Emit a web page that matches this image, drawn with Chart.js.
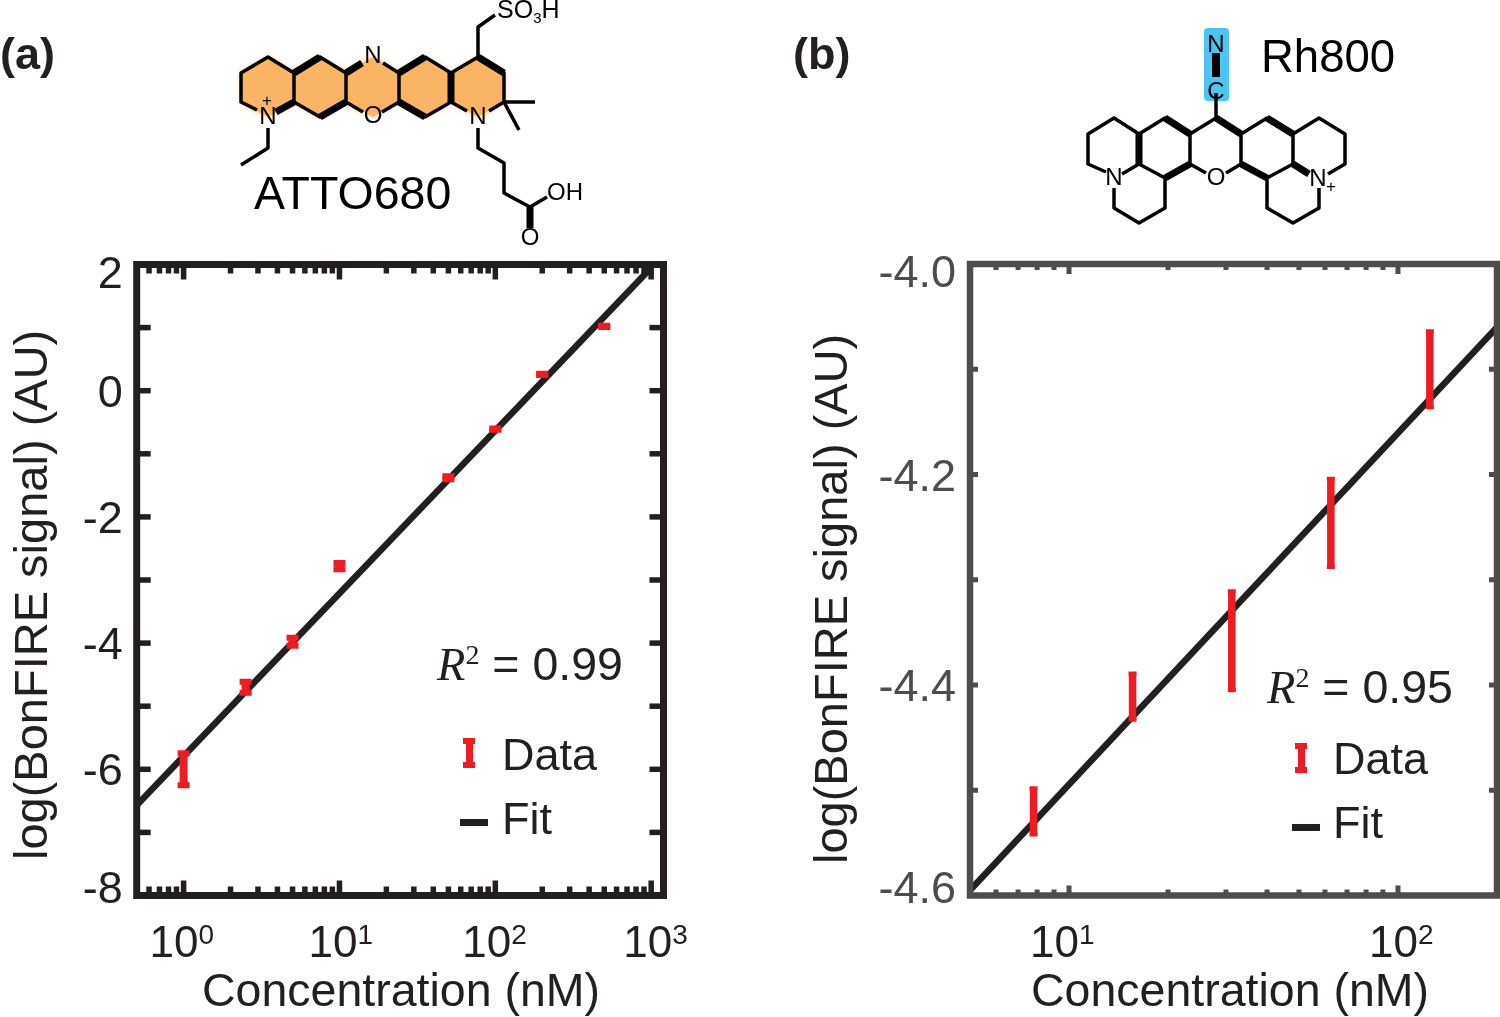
<!DOCTYPE html>
<html><head><meta charset="utf-8">
<script src="https://cdn.jsdelivr.net/npm/chart.js@4"></script>
<style>
html,body{margin:0;padding:0;background:#fff;overflow:hidden}
#page{position:relative;width:1500px;height:1017px;font-family:"Liberation Sans",Arial,sans-serif;color:#231f20}
canvas{position:absolute;top:0}
#mol{position:absolute;left:0;top:0}
.t{position:absolute;white-space:nowrap;line-height:1;font-size:45px}
.pl{font-weight:bold;font-size:45px}
.r2{font-size:46.5px}
.r2 i{font-family:"Liberation Serif",serif}
.r2 sup{font-size:28px;line-height:0;vertical-align:16px;font-family:"Liberation Serif",serif}
.e{position:absolute;background:#ed1c24}
.f{position:absolute;background:#231f20}
</style></head><body>
<div id="page">
<canvas id="ca" width="750" height="1017" style="left:0;width:750px;height:1017px"></canvas>
<canvas id="cb" width="750" height="1017" style="left:750px;width:750px;height:1017px"></canvas>
<svg id="mol" width="1500" height="262" viewBox="0 0 1500 262" font-family="Liberation Sans" fill="#000">
<defs><filter id="gl" x="-10%" y="-20%" width="120%" height="140%"><feGaussianBlur stdDeviation="3"/></filter></defs>
<polygon points="268,57 294,73 320,57 346,73 373,57 399,73 425,57 451,73 478,57 504,73 504,102 478,117 451,102 425,117 399,102 373,117 346,102 320,117 294,102 268,117 241,102 241,73" fill="#f7a540" opacity=".7" filter="url(#gl)"/>
<polygon points="268,57 294,73 320,57 346,73 373,57 399,73 425,57 451,73 478,57 504,73 504,102 478,117 451,102 425,117 399,102 373,117 346,102 320,117 294,102 268,117 241,102 241,73" fill="#f9b564"/>
<g fill="none" stroke="#000" stroke-width="3.5" stroke-linejoin="round">
<path d="M257,110 241,102 241,73 268,57 294,73 294,102 M294,73 320,57 346,73 346,102 320,117 294,102 M346,73 362,63 M383,63 399,73 399,102 M346,102 363,112 M382,112 399,102 425,117 451,102 451,73 425,57 399,73 M451,73 478,57 504,73 504,102 489,111 M451,102 467,111 M478,57 478,27 495,15 M504,102 535,102 M504,102 519,130 M268,128 268,148 241,165 M478,128 478,148 504,163 504,193 530,207 547,197"/>
<g stroke-width="7"><path d="M294,73 320,57 M346,73 362,63 M399,73 425,57 M451,73 451,102 M294,102 276,112 M320,117 346,102 M399,102 425,117 M478,57 504,73 M530,207 530,228"/></g>
</g>
<g font-size="24" text-anchor="middle">
<text x="373" y="63">N</text><text x="373" y="123">O</text><text x="268" y="124">N</text><text x="267" y="106" font-size="17">+</text><text x="478" y="124">N</text><text x="530" y="245">O</text>
<text x="497" y="18" font-size="25" text-anchor="start">SO<tspan font-size="15" dy="5">3</tspan><tspan dy="-5">H</tspan></text>
<text x="547" y="200" text-anchor="start">OH</text></g>
<text x="254" y="209" font-size="46.5">ATTO680</text>
<rect x="1204" y="28" width="25" height="73" rx="4" fill="#4cc5f2"/>
<g fill="none" stroke="#000" stroke-width="3.5" stroke-linejoin="round">
<path d="M1216,93 1216,118 M1106,172 1088,164 1088,134 1114,118 1139,134 1139,164 1122,174 M1139,134 1165,118 1190,134 1190,164 1165,178 1139,164 M1190,134 1216,118 1241,134 1241,164 1226,173 M1190,164 1206,173 M1241,134 1267,118 1293,134 1293,164 1267,178 1241,164 M1293,134 1319,118 1345,134 1345,164 1328,174 M1114,188 1114,208 1139,223 1165,208 1165,178 M1267,178 1267,208 1293,223 1319,208 1319,188"/>
<path stroke-width="7" d="M1165,118 1190,134 M1216,118 1241,134 M1267,118 1293,134 M1139,134 1139,164 M1165,178 1190,164 M1241,164 1267,178 M1293,164 1309,174"/>
<path stroke-width="8" d="M1216,53 1216,77"/>
</g>
<g font-size="24" text-anchor="middle">
<text x="1216" y="52">N</text><text x="1216" y="99">C</text><text x="1216" y="185">O</text><text x="1114" y="185">N</text><text x="1318" y="186">N</text><text x="1331" y="192" font-size="17">+</text></g>
<text x="1261" y="72" font-size="45.5">Rh800</text>
</svg>
<div class="t pl" style="left:0;top:31px">(a)</div>
<div class="t pl" style="left:793px;top:31px">(b)</div>
<div class="t r2" style="left:437px;top:641px"><i>R</i><sup>2</sup> = 0.99</div>
<div class="t r2" style="left:1267px;top:664px"><i>R</i><sup>2</sup> = 0.95</div>
<div class="t" style="left:502px;top:732px">Data</div>
<div class="t" style="left:502px;top:796px">Fit</div>
<div class="t" style="left:1333px;top:736px">Data</div>
<div class="t" style="left:1333px;top:800px">Fit</div>
<div class="e" style="left:466px;top:738px;width:7px;height:30px"></div>
<div class="e" style="left:463px;top:738px;width:12px;height:6px"></div>
<div class="e" style="left:463px;top:762px;width:12px;height:6px"></div>
<div class="f" style="left:460px;top:819px;width:28px;height:7px"></div>
<div class="e" style="left:1298px;top:743px;width:7px;height:30px"></div>
<div class="e" style="left:1295px;top:743px;width:12px;height:6px"></div>
<div class="e" style="left:1295px;top:767px;width:12px;height:6px"></div>
<div class="f" style="left:1292px;top:824px;width:28px;height:7px"></div>
</div>
<script>
// Panel (a) values
const concA = [1, 2.5, 5, 10, 50, 100, 200, 500];
const signalA = [-6, -4.7, -3.98, -2.78, -1.38, -0.61, 0.26, 1.02];
const errA = [0.254, 0.087, 0.063, 0.05, 0.025, 0.01, 0.01, 0.01];
const fitConcA = [0.5, 1000];
const fitSignalA = [-6.57, 1.95];
const xTicksA = [0.6,0.7,0.8,0.9,1,2,3,4,5,6,7,8,9,10,20,30,40,50,60,70,80,90,100,200,300,400,500,600,700,800,900,1000];
const yTicksA = [-8,-7,-6,-5,-4,-3,-2,-1,0,1,2];
const yLabelsA = [-8,-6,-4,-2,0,2];
// Panel (b) values
const concB = [7.8, 15.6, 31.25, 62.5, 125];
const signalB = [-4.52, -4.411, -4.358, -4.246, -4.1];
const errB = [0.022, 0.022, 0.047, 0.042, 0.036];
const fitConcB = [5, 200];
const fitSignalB = [-4.595, -4.06];
const xTicksB = [6,7,8,9,10,20,30,40,50,60,70,80,90,100,200];
const yTicksB = [-4.6,-4.5,-4.4,-4.3,-4.2,-4.1,-4.0];
const yLabelsB = [-4.6,-4.4,-4.2,-4.0];
const xTitle = 'Concentration (nM)';
const yTitle = 'log(BonFIRE signal) (AU)';
const FONT = '"Liberation Sans", Arial, sans-serif';

const pts = (xs, ys) => xs.map((x, i) => ({x, y: ys[i]}));
const bars = (xs, ys, es) => xs.flatMap((x, i) => [{x, y: ys[i] - es[i]}, {x, y: ys[i] + es[i]}, {x, y: null}]);
const isDecade = v => Math.abs(Math.log10(v) - Math.round(Math.log10(v))) < 1e-6;

const boxPlugin = {
  id: 'box',
  afterDatasetsDraw(chart, args, o) {
    const {ctx, chartArea: a, scales: {x, y}} = chart;
    ctx.save();
    ctx.strokeStyle = o.color;
    const seg = (x1, y1, x2, y2, w) => { ctx.lineWidth = w; ctx.beginPath(); ctx.moveTo(x1, y1); ctx.lineTo(x2, y2); ctx.stroke(); };
    x.ticks.forEach(t => {
      const p = x.getPixelForValue(t.value), L = t.major ? o.xMajor : o.xMinor;
      seg(p, a.bottom, p, a.bottom - L, o.tickW); seg(p, a.top, p, a.top + L, o.tickW);
    });
    y.ticks.forEach(t => {
      const p = y.getPixelForValue(t.value);
      seg(a.left, p, a.left + o.yLen, p, o.tickW); seg(a.right, p, a.right - o.yLen, p, o.tickW);
    });
    ctx.lineWidth = o.frameW;
    ctx.strokeRect(a.left, a.top, a.right - a.left, a.bottom - a.top);
    ctx.restore();

    ctx.save();
    ctx.textBaseline = 'alphabetic';
    // y tick labels, pulled inward at both ends of the axis
    ctx.font = '45px ' + FONT; ctx.fillStyle = o.yColor; ctx.textAlign = 'right';
    y.ticks.forEach((t, i) => {
      if (!t.label) return;
      const dy = i === 0 ? -8.5 : i === y.ticks.length - 1 ? 7 : 0;
      ctx.fillText(t.label, a.left - o.yPad, y.getPixelForValue(t.value) + 16 + dy);
    });
    // x tick labels: base and raised exponent
    ctx.fillStyle = '#231f20'; ctx.textAlign = 'left';
    let k = 0;
    x.ticks.forEach(t => {
      if (!t.major) return;
      const px = x.getPixelForValue(t.value) + o.xDx[k++];
      ctx.font = '44px ' + FONT; ctx.fillText('10', px, 957);
      ctx.font = '28px ' + FONT; ctx.fillText(String(Math.round(Math.log10(t.value))), px + 49, 944);
    });
    // axis titles
    ctx.font = '46.5px ' + FONT; ctx.fillText(xTitle, o.xTitleX, 1006);
    ctx.font = '47px ' + FONT;
    ctx.translate(o.titleX, o.titleY); ctx.rotate(-Math.PI / 2);
    ctx.fillText(yTitle, 0, 0);
    ctx.restore();
  }
};

function panel(id, p) {
  new Chart(document.getElementById(id), {
    type: 'scatter',
    data: { datasets: [
      { label: 'Data', data: bars(p.cx, p.sy, p.ey), showLine: true, spanGaps: false,
        borderColor: '#ed1c24', borderWidth: p.stem, borderCapStyle: 'butt',
        pointStyle: 'line', pointRadius: p.capR, pointHoverRadius: p.capR, pointBorderColor: '#ed1c24', pointBorderWidth: p.capW, pointBackgroundColor: '#ed1c24' },
      { label: 'Fit', data: pts(p.fx, p.fy), showLine: true, borderColor: '#231f20', borderWidth: 6.5, pointRadius: 0 }
    ]},
    options: {
      responsive: false, animation: false, devicePixelRatio: 1,
      layout: { autoPadding: false, padding: { top: p.top, right: p.right, left: 0, bottom: 0 } },
      plugins: { legend: { display: false }, tooltip: { enabled: false }, box: p.box },
      scales: {
        x: { type: 'logarithmic', min: p.xmin, max: p.xmax,
          afterBuildTicks: s => { s.ticks = p.xt.map(v => ({value: v, major: isDecade(v)})); },
          afterFit: s => { s.height = 1017 - p.bottom; s.paddingLeft = 0; s.paddingRight = 0; },
          grid: { display: false }, border: { display: false },
          ticks: { display: false, autoSkip: false, callback: v => isDecade(v) ? '10^' + Math.round(Math.log10(v)) : '' } },
        y: { min: p.ymin, max: p.ymax,
          afterBuildTicks: s => { s.ticks = p.yt.map(v => ({value: v})); },
          afterFit: s => { s.width = p.left; },
          grid: { display: false }, border: { display: false },
          ticks: { display: false, autoSkip: false,
            callback: v => p.yl.some(l => Math.abs(l - v) < 1e-6) ? (p.fixed ? v.toFixed(1) : String(v)) : '' } }
      }
    },
    plugins: [boxPlugin]
  });
}

panel('ca', { cx: concA, sy: signalA, ey: errA, fx: fitConcA, fy: fitSignalA, xt: xTicksA, yt: yTicksA, yl: yLabelsA,
  xmin: 0.5, xmax: 1200, ymin: -8, ymax: 2, left: 136.7, right: 86.5, top: 264.5, bottom: 895.5,
  stem: 8, capR: 6, capW: 6, fixed: false,
  box: { color: '#231f20', yColor: '#231f20', yPad: 14, frameW: 7, tickW: 5.5, xMajor: 15, xMinor: 9, yLen: 14, xDx: [-34, -31, -33, -28], xTitleX: 202, titleX: 47, titleY: 860 } });
panel('cb', { cx: concB, sy: signalB, ey: errB, fx: fitConcB, fy: fitSignalB, xt: xTicksB, yt: yTicksB, yl: yLabelsB,
  xmin: 5, xmax: 200, ymin: -4.6, ymax: -4.0, left: 220, right: 3, top: 264, bottom: 895.5,
  stem: 7.5, capR: 4, capW: 4, fixed: true,
  box: { color: '#4d4d4f', yColor: '#4d4d4f', yPad: 14, frameW: 6.5, tickW: 5, xMajor: 10, xMinor: 6, yLen: 8, xDx: [-39, -29], xTitleX: 281, titleX: 97, titleY: 864 } });
</script>
</body></html>
